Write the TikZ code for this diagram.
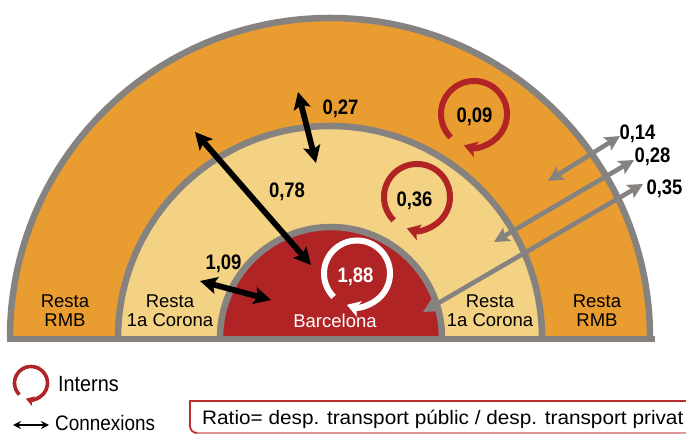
\documentclass[tikz,border=0pt]{standalone}
\usepackage{fontspec}
\setmainfont{Liberation Sans}
\newfontfamily\condfont[FakeStretch=0.88]{Liberation Sans}
\newfontfamily\legfont[FakeStretch=0.9]{Liberation Sans}
\newfontfamily\widefont[FakeStretch=1.065]{Liberation Sans}
\usetikzlibrary{arrows.meta}
\definecolor{orangeband}{RGB}{233,156,48}
\definecolor{lightband}{RGB}{243,210,131}
\definecolor{bcnred}{RGB}{176,36,37}
\definecolor{rimgray}{RGB}{134,130,128}
\definecolor{boxred}{RGB}{185,45,45}
\definecolor{boxpink}{RGB}{222,150,150}
\begin{document}
\begin{tikzpicture}[x=1pt,y=1pt,
  rim/.style={draw=rimgray,line width=6.5pt},
  numlabel/.style={font=\condfont\bfseries\fontsize{21}{25}\selectfont, inner sep=0pt, anchor=base},
  zonelabel/.style={font=\fontsize{18.5}{22}\selectfont, inner sep=0pt, anchor=base},
  conn/.style={draw=black, line width=5.8pt, {Stealth[length=17pt,width=17pt,inset=3.5pt]}-{Stealth[length=17pt,width=17pt,inset=3.5pt]}},
  extconn/.style={draw=rimgray, line width=4.6pt, {Stealth[length=15pt,width=15pt,inset=3pt]}-{Stealth[length=15pt,width=15pt,inset=3pt]}},
  intloop/.style={line width=6pt, -{Stealth[length=13pt,width=16pt,inset=3pt]}}
]
\useasboundingbox (0,0) rectangle (686,435);

% bands
\coordinate (ctr) at (330,97);
\fill[orangeband] (10,97) arc[start angle=180,end angle=0,radius=320] -- cycle;
\draw[rim] (10,97) arc[start angle=180,end angle=0,radius=320];
\fill[lightband] (118,97) arc[start angle=180,end angle=0,radius=212] -- cycle;
\draw[rim] (118,97) arc[start angle=180,end angle=0,radius=212];
\fill[bcnred] (220,97) arc[start angle=180,end angle=0,radius=111] -- cycle;
\draw[rim] (220,97) arc[start angle=180,end angle=0,radius=111];
\coordinate (baseL) at (6.5,96);
\coordinate (baseR) at (655,96);
\draw[draw=rimgray, line width=6.5pt] (baseL) -- (baseR);

% connection endpoints
\coordinate (a27s) at (298,343); \coordinate (a27e) at (316,272);
\coordinate (a78s) at (195,303); \coordinate (a78e) at (311,170);
\coordinate (a109s) at (200,154); \coordinate (a109e) at (271,135);
\coordinate (g14s) at (548,254); \coordinate (g14e) at (620,299);
\coordinate (g28s) at (494,193); \coordinate (g28e) at (634,275);
\coordinate (g35s) at (423,123); \coordinate (g35e) at (643,251);

\draw[extconn] (g14s) -- (g14e);
\draw[extconn] (g28s) -- (g28e);
\draw[extconn] (g35s) -- (g35e);
\draw[conn] (a27s) -- (a27e);
\draw[conn] (a78s) -- (a78e);
\draw[conn] (a109s) -- (a109e);

% internal loops
\coordinate (c09) at (474,321);
\coordinate (c36) at (417,238);
\coordinate (c188) at (357,161.5);
\draw[intloop, draw=bcnred] (c09) ++(225:33) arc[start angle=225,end angle=-108,radius=33];
\draw[intloop, draw=bcnred] (c36) ++(225:33) arc[start angle=225,end angle=-108,radius=33];
\draw[intloop, draw=white] (c188) ++(225:33) arc[start angle=225,end angle=-108,radius=33];

% numbers
\node[numlabel] (n27) at (340.5,320) {0,27};
\node[numlabel] (n78) at (287,237) {0,78};
\node[numlabel] (n109) at (223.5,165) {1,09};
\node[numlabel] (n09) at (474.5,312) {0,09};
\node[numlabel] (n36) at (414.5,228) {0,36};
\node[numlabel, text=white] (n188) at (355.5,152) {1,88};
\node[numlabel] (n14) at (637.5,295) {0,14};
\node[numlabel] (n28) at (652.5,272) {0,28};
\node[numlabel] (n35) at (664.5,240) {0,35};

% zone labels
\node[zonelabel] (z1a) at (65,127) {Resta};
\node[zonelabel] (z1b) at (65,108) {RMB};
\node[zonelabel] (z2a) at (170,127) {Resta};
\node[zonelabel] (z2b) at (170,108) {1a Corona};
\node[zonelabel] (z3a) at (490,127) {Resta};
\node[zonelabel] (z3b) at (490,108) {1a Corona};
\node[zonelabel] (z4a) at (597,127) {Resta};
\node[zonelabel] (z4b) at (597,108) {RMB};
\node[zonelabel, text=white] (zb) at (335,107) {Barcelona};

% legend
\coordinate (lc) at (31,52);
\draw[line width=3.6pt, draw=bcnred, -{Stealth[length=8pt,width=10pt,inset=2pt]}] (lc) ++(225:16.5) arc[start angle=225,end angle=-108,radius=16.5];
\node[font=\legfont\fontsize{22}{26}\selectfont, inner sep=0pt, anchor=base west] (lint) at (58,43.3) {Interns};
\coordinate (lal) at (13,10);
\coordinate (lar) at (49,10);
\draw[line width=2.4pt, {Stealth[length=8pt,width=8pt]}-{Stealth[length=8pt,width=8pt]}] (lal) -- (lar);
\node[font=\legfont\fontsize{21}{25}\selectfont, inner sep=0pt, anchor=base west] (lcon) at (55,4) {Connexions};

% ratio box
\draw[draw=boxred, line width=1.8pt] (687,34) -- (190,34) -- (190,9) arc[start angle=180,end angle=270,radius=7];
\draw[draw=boxpink, line width=1.2pt] (197,2) -- (687,2);
\node[font=\widefont\fontsize{19.5}{23}\selectfont, inner sep=0pt, anchor=base west] (ratio) at (202,10) {Ratio= desp. transport públic / desp. transport privat};
\end{tikzpicture}
\end{document}
